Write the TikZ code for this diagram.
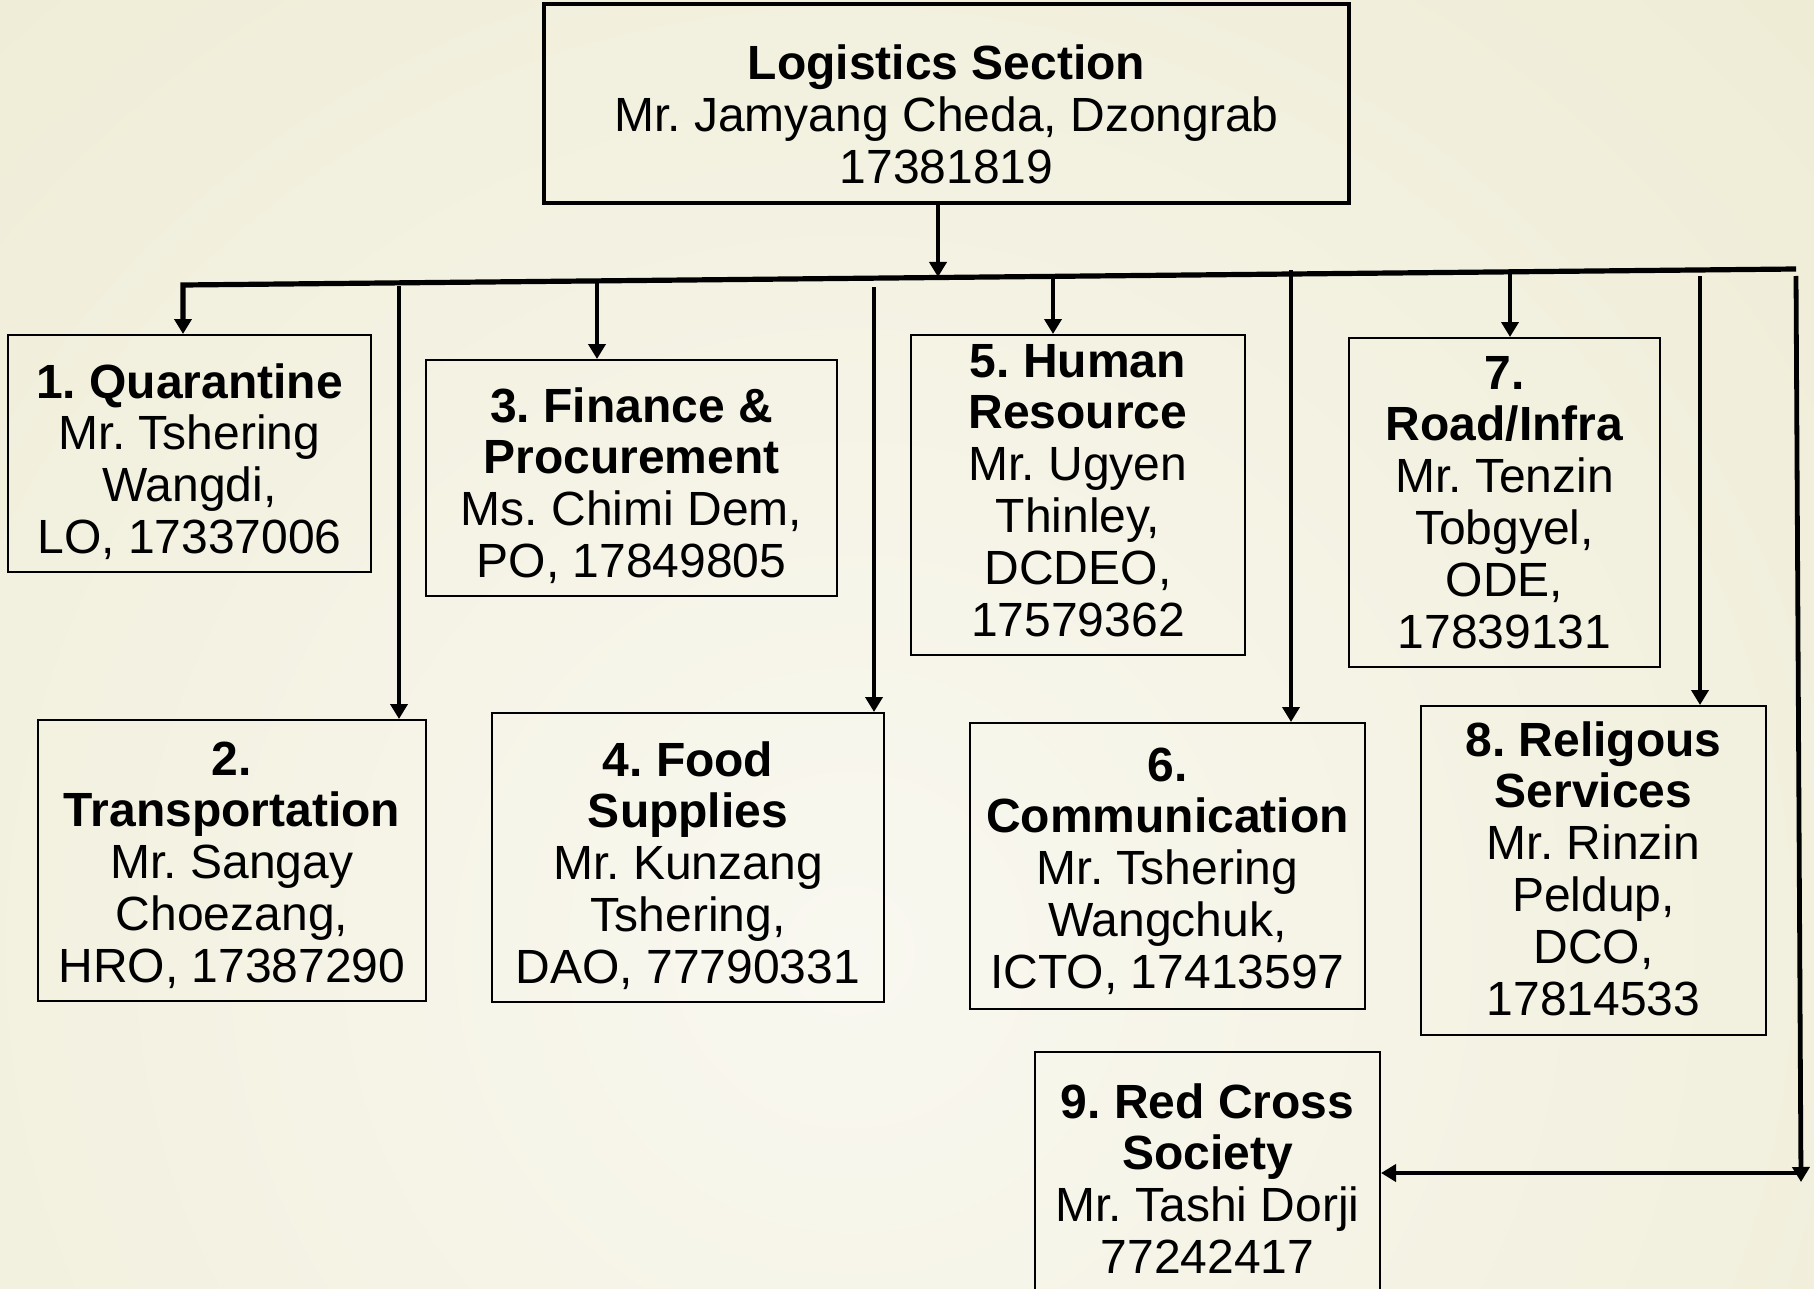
\documentclass[tikz,border=0pt]{standalone}
\usepackage{fontspec}
\setmainfont{Liberation Sans}
\usetikzlibrary{arrows.meta,fit}
\definecolor{bgin}{HTML}{F9F8F0}
\definecolor{bgout}{HTML}{E5E1BD}
\frenchspacing
\tikzset{
  box/.style={draw=black, line width=1pt, inner sep=0pt, fill=none},
  topbox/.style={draw=black, line width=2pt, inner sep=0pt},
  txt/.style={anchor=base, inner sep=0pt, font=\fontsize{24}{25.9}\selectfont\frenchspacing},
  conn/.style={line width=2.4pt, -{Triangle[length=7.5pt,width=8.5pt]}},
  busline/.style={line width=2.6pt, miter limit=10},
}
\newcommand{\lines}[1]{\begin{tabular}[t]{@{}c@{}}#1\end{tabular}}
\begin{document}
\begin{tikzpicture}[x=0.5pt,y=-0.5pt]
\useasboundingbox (0,0) rectangle (1814,1289);
\begin{scope}
  \clip (0,0) rectangle (1814,1289);
  \shade[inner color=bgin, outer color=bgout] (850,950) circle (2600);
\end{scope}

% boxes
\node[topbox, fit={(544,4) (1349,203)}] (top) {};
\node[box, fit={(8,335) (371,572)}] (b1) {};
\node[box, fit={(38,720) (426,1001)}] (b2) {};
\node[box, fit={(426,360) (837,596)}] (b3) {};
\node[box, fit={(492,713) (884,1002)}] (b4) {};
\node[box, fit={(911,335) (1245,655)}] (b5) {};
\node[box, fit={(970,723) (1365,1009)}] (b6) {};
\node[box, fit={(1349,338) (1660,667)}] (b7) {};
\node[box, fit={(1421,706) (1766,1035)}] (b8) {};
\node[box, fit={(1035,1052) (1380,1312)}] (b9) {};

% texts
\node[txt] (t0) at (946.5,80) {\lines{\textbf{Logistics Section}\\Mr. Jamyang Cheda, Dzongrab\\17381819}};
\node[txt] (t1) at (189.5,398) {\lines{\textbf{1. Quarantine}\\Mr. Tshering\\Wangdi,\\LO, 17337006}};
\node[txt] (t2) at (232,775) {\lines{\textbf{2.}\\\textbf{Transportation}\\Mr. Sangay\\Choezang,\\HRO, 17387290}};
\node[txt] (t3) at (631.5,422) {\lines{\textbf{3. Finance \&}\\\textbf{Procurement}\\Ms. Chimi Dem,\\PO, 17849805}};
\node[txt] (t4) at (688,776) {\lines{\textbf{4. Food}\\\textbf{Supplies}\\Mr. Kunzang\\Tshering,\\DAO, 77790331}};
\node[txt] (t5) at (1078,377) {\lines{\textbf{5. Human}\\\textbf{Resource}\\Mr. Ugyen\\Thinley,\\DCDEO,\\17579362}};
\node[txt] (t6) at (1167.5,781) {\lines{\textbf{6.}\\\textbf{Communication}\\Mr. Tshering\\Wangchuk,\\ICTO, 17413597}};
\node[txt] (t7) at (1504.5,389) {\lines{\textbf{7.}\\\textbf{Road/Infra}\\Mr. Tenzin\\Tobgyel,\\ODE,\\17839131}};
\node[txt] (t8) at (1593.5,756) {\lines{\textbf{8. Religous}\\\textbf{Services}\\Mr. Rinzin\\Peldup,\\DCO,\\17814533}};
\node[txt] (t9) at (1207.5,1118) {\lines{\textbf{9. Red Cross}\\\textbf{Society}\\Mr. Tashi Dorji\\77242417}};

% connector coordinates
\coordinate (c0) at (938,277);
\coordinate (busL) at (183,285);
\coordinate (busR) at (1796,269);
\coordinate (c2) at (399,286);
\coordinate (c3) at (597,281);
\coordinate (c4) at (874,287);
\coordinate (c5) at (1053,276);
\coordinate (c6) at (1291,270);
\coordinate (c7) at (1510,272);
\coordinate (c8) at (1700,276);
\coordinate (c9) at (1796,276);
\coordinate (k9) at (1801,1182);
\coordinate (h9) at (1801,1173);

% connectors
\draw[conn] (c0 |- top.south) -- (c0);
\draw[conn, busline] (busR) -- (busL) -- (busL |- b1.north);
\draw[conn] (c2) -- (c2 |- b2.north);
\draw[conn] (c3) -- (c3 |- b3.north);
\draw[conn] (c4) -- (c4 |- b4.north);
\draw[conn] (c5) -- (c5 |- b5.north);
\draw[conn] (c6) -- (c6 |- b6.north);
\draw[conn] (c7) -- (c7 |- b7.north);
\draw[conn] (c8) -- (c8 |- b8.north);
\draw[conn] (c9) -- (k9);
\draw[conn] (h9) -- (h9 -| b9.east);
\end{tikzpicture}
\end{document}
